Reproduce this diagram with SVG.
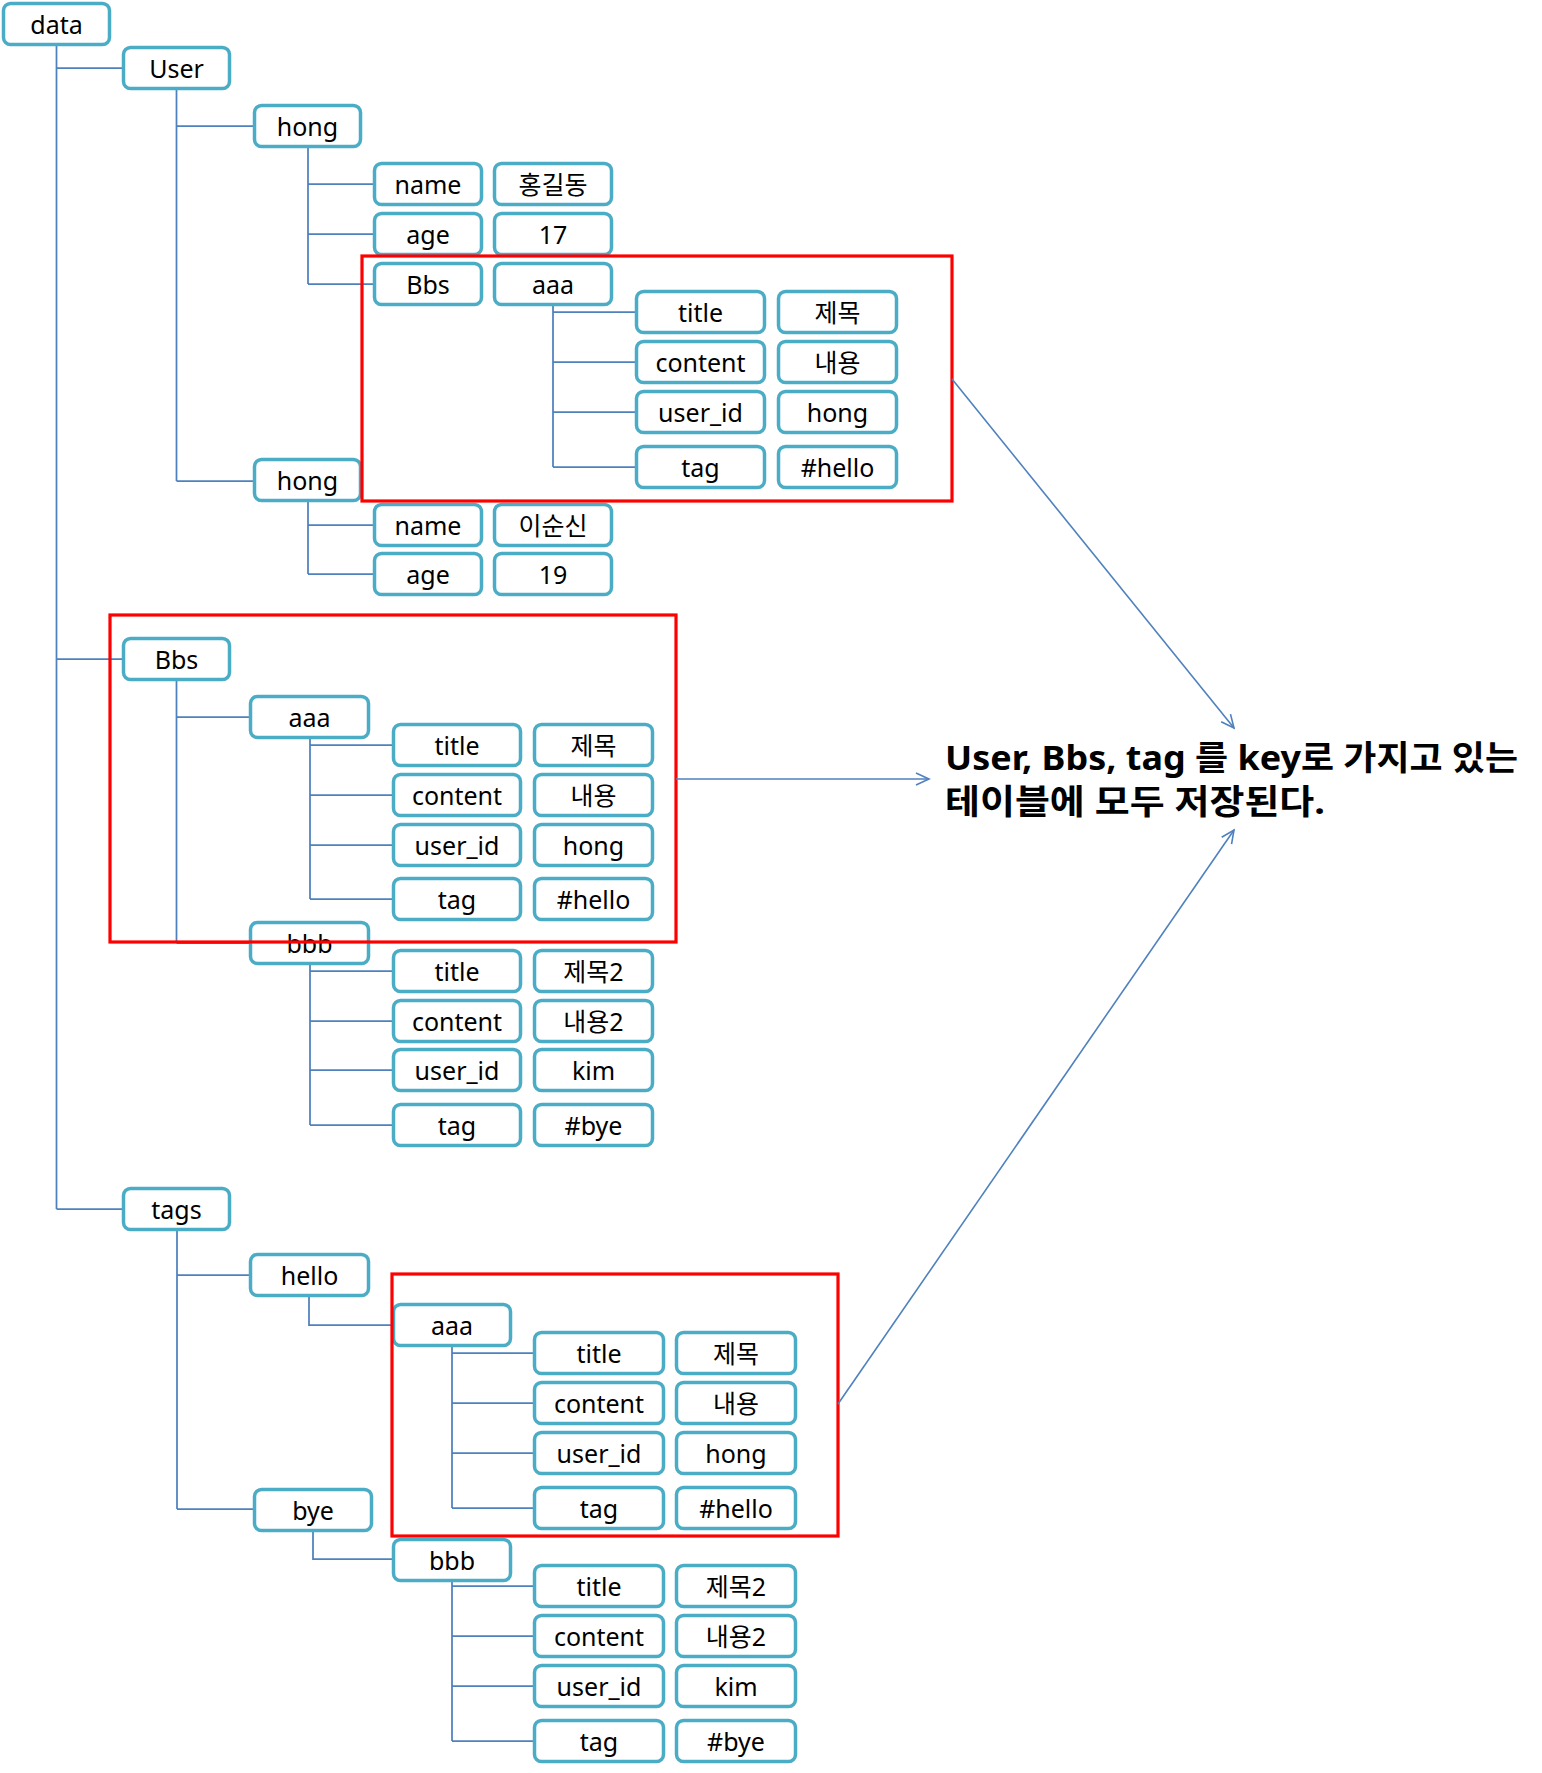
<svg xmlns="http://www.w3.org/2000/svg" width="1542" height="1773" viewBox="0 0 1542 1773">
<style>
.n rect{fill:#fff;stroke:#4BACC6;stroke-width:3.5}
.n text{font-family:"Noto Sans","Noto Sans CJK KR",sans-serif;font-size:25px;fill:#000;text-anchor:middle}
.c path{fill:none;stroke:#4F81BD;stroke-width:1.75}
.hl rect{fill:none;stroke:#FF0000;stroke-width:3.2}
.ar path{fill:none;stroke:#4F81BD;stroke-width:1.6}
.note{font-family:"Noto Sans","Noto Sans CJK KR",sans-serif;font-size:34px;font-weight:bold;fill:#000}
</style>
<defs>
<marker id="ah" markerUnits="userSpaceOnUse" markerWidth="16" markerHeight="16" viewBox="0 0 16 16" refX="14" refY="8" orient="auto">
<path d="M1,2 L14,8 L1,14" fill="none" stroke="#4F81BD" stroke-width="1.6"/>
</marker>
</defs>
<rect x="0" y="0" width="1542" height="1773" fill="#fff"/>
<g class="c" id="connectors">
<path d="M56.5,46 V1209 M56.5,68 H122 M56.5,659 H122 M56.5,1209 H122"/>
<path d="M176.5,90 V481 M176.5,126 H253 M176.5,481 H253"/>
<path d="M308,148 V284 M308,184 H373 M308,234 H373 M308,284 H373"/>
<path d="M553,306 V467 M553,312 H635 M553,362 H635 M553,412 H635 M553,467 H635"/>
<path d="M308,502 V574 M308,525 H373 M308,574 H373"/>
<path d="M176.5,681 V943 M176.5,717 H249 M176.5,943 H249"/>
<path d="M310,739 V899 M310,745 H392 M310,795 H392 M310,845 H392 M310,899 H392"/>
<path d="M310,965 V1125 M310,971 H392 M310,1021 H392 M310,1070 H392 M310,1125 H392"/>
<path d="M177,1231 V1509 M177,1275 H249 M177,1509 H253"/>
<path d="M309,1297 V1325 H392"/>
<path d="M452,1347 V1508 M452,1353 H533 M452,1403 H533 M452,1453 H533 M452,1508 H533"/>
<path d="M313,1532 V1559 H392"/>
<path d="M452,1582 V1741 M452,1586 H533 M452,1636 H533 M452,1686 H533 M452,1741 H533"/>
</g>
<g class="n" id="n-data"><rect x="3.5" y="3.5" width="106" height="41" rx="7"/><text x="56.5" y="34">data</text></g>
<g class="n" id="n-user"><rect x="123.5" y="47.5" width="106" height="41" rx="7"/><text x="176.5" y="78">User</text></g>
<g class="n" id="n-hong1"><rect x="254.5" y="105.5" width="106" height="41" rx="7"/><text x="307.5" y="136">hong</text></g>
<g class="n" id="n-name1"><rect x="374.5" y="163.5" width="107" height="41" rx="7"/><text x="428" y="194">name</text></g>
<g class="n" id="n-name1v"><rect x="494.5" y="163.5" width="117" height="41" rx="7"/><text x="553" y="194">홍길동</text></g>
<g class="n" id="n-age1"><rect x="374.5" y="213.5" width="107" height="41" rx="7"/><text x="428" y="244">age</text></g>
<g class="n" id="n-age1v"><rect x="494.5" y="213.5" width="117" height="41" rx="7"/><text x="553" y="244">17</text></g>
<g class="n" id="n-ubbs"><rect x="374.5" y="263.5" width="107" height="41" rx="7"/><text x="428" y="294">Bbs</text></g>
<g class="n" id="n-uaaa"><rect x="494.5" y="263.5" width="117" height="41" rx="7"/><text x="553" y="294">aaa</text></g>
<g class="n" id="n-u-title"><rect x="636.5" y="291.5" width="128" height="41" rx="7"/><text x="700.5" y="322">title</text></g>
<g class="n" id="n-u-titlev"><rect x="778.5" y="291.5" width="118" height="41" rx="7"/><text x="837.5" y="322">제목</text></g>
<g class="n" id="n-u-content"><rect x="636.5" y="341.5" width="128" height="41" rx="7"/><text x="700.5" y="372">content</text></g>
<g class="n" id="n-u-contentv"><rect x="778.5" y="341.5" width="118" height="41" rx="7"/><text x="837.5" y="372">내용</text></g>
<g class="n" id="n-u-uid"><rect x="636.5" y="391.5" width="128" height="41" rx="7"/><text x="700.5" y="422">user_id</text></g>
<g class="n" id="n-u-uidv"><rect x="778.5" y="391.5" width="118" height="41" rx="7"/><text x="837.5" y="422">hong</text></g>
<g class="n" id="n-u-tag"><rect x="636.5" y="446.5" width="128" height="41" rx="7"/><text x="700.5" y="477">tag</text></g>
<g class="n" id="n-u-tagv"><rect x="778.5" y="446.5" width="118" height="41" rx="7"/><text x="837.5" y="477">#hello</text></g>
<g class="n" id="n-hong2"><rect x="254.5" y="459.5" width="106" height="41" rx="7"/><text x="307.5" y="490">hong</text></g>
<g class="n" id="n-name2"><rect x="374.5" y="504.5" width="107" height="41" rx="7"/><text x="428" y="535">name</text></g>
<g class="n" id="n-name2v"><rect x="494.5" y="504.5" width="117" height="41" rx="7"/><text x="553" y="535">이순신</text></g>
<g class="n" id="n-age2"><rect x="374.5" y="553.5" width="107" height="41" rx="7"/><text x="428" y="584">age</text></g>
<g class="n" id="n-age2v"><rect x="494.5" y="553.5" width="117" height="41" rx="7"/><text x="553" y="584">19</text></g>
<g class="n" id="n-bbs"><rect x="123.5" y="638.5" width="106" height="41" rx="7"/><text x="176.5" y="669">Bbs</text></g>
<g class="n" id="n-baaa"><rect x="250.5" y="696.5" width="118" height="41" rx="7"/><text x="309.5" y="727">aaa</text></g>
<g class="n" id="n-ba-title"><rect x="393.5" y="724.5" width="127" height="41" rx="7"/><text x="457" y="755">title</text></g>
<g class="n" id="n-ba-titlev"><rect x="534.5" y="724.5" width="118" height="41" rx="7"/><text x="593.5" y="755">제목</text></g>
<g class="n" id="n-ba-content"><rect x="393.5" y="774.5" width="127" height="41" rx="7"/><text x="457" y="805">content</text></g>
<g class="n" id="n-ba-contentv"><rect x="534.5" y="774.5" width="118" height="41" rx="7"/><text x="593.5" y="805">내용</text></g>
<g class="n" id="n-ba-uid"><rect x="393.5" y="824.5" width="127" height="41" rx="7"/><text x="457" y="855">user_id</text></g>
<g class="n" id="n-ba-uidv"><rect x="534.5" y="824.5" width="118" height="41" rx="7"/><text x="593.5" y="855">hong</text></g>
<g class="n" id="n-ba-tag"><rect x="393.5" y="878.5" width="127" height="41" rx="7"/><text x="457" y="909">tag</text></g>
<g class="n" id="n-ba-tagv"><rect x="534.5" y="878.5" width="118" height="41" rx="7"/><text x="593.5" y="909">#hello</text></g>
<g class="n" id="n-bbbb"><rect x="250.5" y="922.5" width="118" height="41" rx="7"/><text x="309.5" y="953">bbb</text></g>
<g class="n" id="n-bb-title"><rect x="393.5" y="950.5" width="127" height="41" rx="7"/><text x="457" y="981">title</text></g>
<g class="n" id="n-bb-titlev"><rect x="534.5" y="950.5" width="118" height="41" rx="7"/><text x="593.5" y="981">제목2</text></g>
<g class="n" id="n-bb-content"><rect x="393.5" y="1000.5" width="127" height="41" rx="7"/><text x="457" y="1031">content</text></g>
<g class="n" id="n-bb-contentv"><rect x="534.5" y="1000.5" width="118" height="41" rx="7"/><text x="593.5" y="1031">내용2</text></g>
<g class="n" id="n-bb-uid"><rect x="393.5" y="1049.5" width="127" height="41" rx="7"/><text x="457" y="1080">user_id</text></g>
<g class="n" id="n-bb-uidv"><rect x="534.5" y="1049.5" width="118" height="41" rx="7"/><text x="593.5" y="1080">kim</text></g>
<g class="n" id="n-bb-tag"><rect x="393.5" y="1104.5" width="127" height="41" rx="7"/><text x="457" y="1135">tag</text></g>
<g class="n" id="n-bb-tagv"><rect x="534.5" y="1104.5" width="118" height="41" rx="7"/><text x="593.5" y="1135">#bye</text></g>
<g class="n" id="n-tags"><rect x="123.5" y="1188.5" width="106" height="41" rx="7"/><text x="176.5" y="1219">tags</text></g>
<g class="n" id="n-hello"><rect x="250.5" y="1254.5" width="118" height="41" rx="7"/><text x="309.5" y="1285">hello</text></g>
<g class="n" id="n-taaa"><rect x="393.5" y="1304.5" width="117" height="41" rx="7"/><text x="452" y="1335">aaa</text></g>
<g class="n" id="n-ta-title"><rect x="534.5" y="1332.5" width="129" height="41" rx="7"/><text x="599" y="1363">title</text></g>
<g class="n" id="n-ta-titlev"><rect x="676.5" y="1332.5" width="119" height="41" rx="7"/><text x="736" y="1363">제목</text></g>
<g class="n" id="n-ta-content"><rect x="534.5" y="1382.5" width="129" height="41" rx="7"/><text x="599" y="1413">content</text></g>
<g class="n" id="n-ta-contentv"><rect x="676.5" y="1382.5" width="119" height="41" rx="7"/><text x="736" y="1413">내용</text></g>
<g class="n" id="n-ta-uid"><rect x="534.5" y="1432.5" width="129" height="41" rx="7"/><text x="599" y="1463">user_id</text></g>
<g class="n" id="n-ta-uidv"><rect x="676.5" y="1432.5" width="119" height="41" rx="7"/><text x="736" y="1463">hong</text></g>
<g class="n" id="n-ta-tag"><rect x="534.5" y="1487.5" width="129" height="41" rx="7"/><text x="599" y="1518">tag</text></g>
<g class="n" id="n-ta-tagv"><rect x="676.5" y="1487.5" width="119" height="41" rx="7"/><text x="736" y="1518">#hello</text></g>
<g class="n" id="n-bye"><rect x="254.5" y="1489.5" width="117" height="41" rx="7"/><text x="313" y="1520">bye</text></g>
<g class="n" id="n-tbbb"><rect x="393.5" y="1539.5" width="117" height="41" rx="7"/><text x="452" y="1570">bbb</text></g>
<g class="n" id="n-tb-title"><rect x="534.5" y="1565.5" width="129" height="41" rx="7"/><text x="599" y="1596">title</text></g>
<g class="n" id="n-tb-titlev"><rect x="676.5" y="1565.5" width="119" height="41" rx="7"/><text x="736" y="1596">제목2</text></g>
<g class="n" id="n-tb-content"><rect x="534.5" y="1615.5" width="129" height="41" rx="7"/><text x="599" y="1646">content</text></g>
<g class="n" id="n-tb-contentv"><rect x="676.5" y="1615.5" width="119" height="41" rx="7"/><text x="736" y="1646">내용2</text></g>
<g class="n" id="n-tb-uid"><rect x="534.5" y="1665.5" width="129" height="41" rx="7"/><text x="599" y="1696">user_id</text></g>
<g class="n" id="n-tb-uidv"><rect x="676.5" y="1665.5" width="119" height="41" rx="7"/><text x="736" y="1696">kim</text></g>
<g class="n" id="n-tb-tag"><rect x="534.5" y="1720.5" width="129" height="41" rx="7"/><text x="599" y="1751">tag</text></g>
<g class="n" id="n-tb-tagv"><rect x="676.5" y="1720.5" width="119" height="41" rx="7"/><text x="736" y="1751">#bye</text></g>
<g class="hl" id="highlights">
<rect x="362" y="256" width="590" height="245"/>
<rect x="110" y="615" width="566" height="327"/>
<rect x="392" y="1274" width="446" height="262"/>
</g>
<g class="ar" id="arrows">
<path d="M952,379 L1234,728" marker-end="url(#ah)"/>
<path d="M676,779 L929,779" marker-end="url(#ah)"/>
<path d="M838,1404 L1234,830" marker-end="url(#ah)"/>
</g>
<g id="note">
<text class="note" x="945" y="770" textLength="573" lengthAdjust="spacingAndGlyphs">User, Bbs, tag 를 key로 가지고 있는</text>
<text class="note" x="945" y="814" textLength="380" lengthAdjust="spacingAndGlyphs">테이블에 모두 저장된다.</text>
</g>
</svg>
